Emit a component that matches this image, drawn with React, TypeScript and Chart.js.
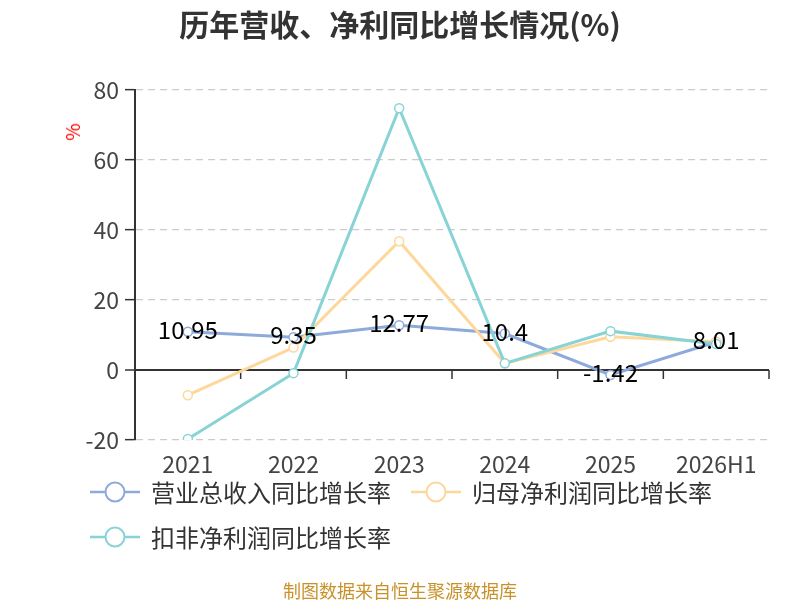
import { useEffect, useRef } from "react"
import { Chart, registerables } from "chart.js"
import type { Plugin } from "chart.js"

Chart.register(...registerables)

const years = ["2021", "2022", "2023", "2024", "2025", "2026H1"]
const seriesNames = ["营业总收入同比增长率", "归母净利润同比增长率", "扣非净利润同比增长率"]
const revenueGrowth = [10.95, 9.35, 12.77, 10.4, -1.42, 8.01]
const netProfitGrowth = [-7.2, 6.4, 36.8, 1.9, 9.5, 8.1]
const deductedProfitGrowth = [-19.7, -0.9, 74.8, 1.9, 11.1, 7.4]
const yTicks = [-20, 0, 20, 40, 60, 80]

const colors = ["#8DAADB", "#FED79B", "#88D3D6"]
const FONT = '"Noto Sans CJK SC", "Noto Sans", sans-serif'

// tick marks on the zero line between categories
const zeroAxisTicks: Plugin<"line"> = {
  id: "zeroAxisTicks",
  beforeDatasetsDraw(chart) {
    const { ctx, scales } = chart
    const x = scales.x
    const y0 = scales.y.getPixelForValue(0)
    ctx.save()
    ctx.strokeStyle = "#333"
    ctx.lineWidth = 1.5
    for (let i = 0; i <= years.length; i++) {
      const px = x.getPixelForValue(i - 0.5)
      ctx.beginPath()
      ctx.moveTo(px, y0)
      ctx.lineTo(px, y0 + 9)
      ctx.stroke()
    }
    ctx.restore()
  },
}

// value labels for the revenue series
const valueLabels: Plugin<"line"> = {
  id: "valueLabels",
  afterDatasetsDraw(chart) {
    const { ctx } = chart
    const meta = chart.getDatasetMeta(0)
    ctx.save()
    ctx.font = `24px ${FONT}`
    ctx.fillStyle = "#000"
    ctx.textAlign = "center"
    ctx.textBaseline = "middle"
    meta.data.forEach((pt, i) => {
      ctx.fillText(String(revenueGrowth[i]), pt.x, pt.y - 2)
    })
    ctx.restore()
  },
}

function LegendIcon({ color }: { color: string }) {
  return (
    <svg width="50" height="24" style={{ display: "block" }}>
      <line x1="0" y1="12" x2="50" y2="12" stroke={color} strokeWidth="2.5" />
      <circle cx="25" cy="12" r="9.5" fill="#fff" stroke={color} strokeWidth="2" />
    </svg>
  )
}

export default function App() {
  const chartRef = useRef<HTMLCanvasElement>(null)
  const chartInstance = useRef<Chart | null>(null)

  useEffect(() => {
    if (!chartRef.current) return
    if (chartInstance.current) chartInstance.current.destroy()

    const series = [revenueGrowth, netProfitGrowth, deductedProfitGrowth]

    chartInstance.current = new Chart(chartRef.current, {
      type: "line",
      data: {
        labels: years,
        datasets: series.map((data, i) => ({
          label: seriesNames[i],
          data,
          borderColor: colors[i],
          backgroundColor: colors[i],
          borderWidth: 3,
          pointRadius: 4.5,
          pointBorderWidth: 1.5,
          pointBackgroundColor: "#fff",
          pointBorderColor: colors[i],
          tension: 0,
          order: 2 - i,
        })),
      },
      options: {
        responsive: false,
        animation: false,
        layout: { padding: { left: 0, top: 90, right: 31, bottom: 120 } },
        plugins: {
          legend: { display: false },
          tooltip: { enabled: false },
          title: { display: false },
        },
        scales: {
          x: {
            type: "category",
            offset: true,
            grid: { display: false, drawTicks: false },
            border: { display: false },
            ticks: {
              color: "#444",
              padding: 10,
              font: { family: FONT, size: 23 },
              maxRotation: 0,
            },
            afterFit: (scale) => {
              scale.height = 40
            },
          },
          y: {
            min: -20,
            max: 80,
            afterBuildTicks: (scale) => {
              scale.ticks = yTicks.map((v) => ({ value: v }))
            },
            ticks: {
              color: "#444",
              padding: 6,
              font: { family: FONT, size: 23 },
            },
            grid: {
              color: (c) => (c.tick && c.tick.value === 0 ? "#333" : "#ccc"),
              lineWidth: (c) => (c.tick && c.tick.value === 0 ? 2 : 1.3),
              tickLength: 10,
              tickColor: "#333",
              tickWidth: 1.5,
            },
            border: {
              display: true,
              color: "#333",
              width: 2,
              dash: (c) => (c.tick && c.tick.value === 0 ? [] : [7, 5]),
            },
            afterFit: (scale) => {
              scale.width = 135
            },
          },
        },
      },
      plugins: [zeroAxisTicks, valueLabels],
    })

    return () => {
      if (chartInstance.current) {
        chartInstance.current.destroy()
        chartInstance.current = null
      }
    }
  }, [])

  const legendRows = [
    [0, 1],
    [2],
  ]
  const rowCenters = [492, 537]
  const itemLefts = [90, 411]

  return (
    <div
      style={{
        position: "absolute",
        left: 0,
        top: 0,
        width: 800,
        height: 600,
        background: "#fff",
        fontFamily: FONT,
        overflow: "hidden",
      }}
    >
      <canvas ref={chartRef} width={800} height={600} style={{ position: "absolute", left: 0, top: 0 }} />
      <div
        style={{
          position: "absolute",
          left: 0,
          top: 0,
          width: 800,
          lineHeight: "46px",
          textAlign: "center",
          fontSize: 30,
          fontWeight: "bold",
          color: "#333",
        }}
      >
        历年营收、净利同比增长情况(%)
      </div>
      <div
        style={{
          position: "absolute",
          left: 72,
          top: 132,
          transform: "translate(-50%, -50%) rotate(-90deg)",
          color: "#f00",
          fontSize: 19,
          lineHeight: "20px",
        }}
      >
        %
      </div>
      {legendRows.map((row, r) =>
        row.map((idx, k) => (
          <div
            key={idx}
            style={{
              position: "absolute",
              left: itemLefts[k],
              top: rowCenters[r] - 15,
              height: 30,
              display: "flex",
              alignItems: "center",
              whiteSpace: "nowrap",
            }}
          >
            <LegendIcon color={colors[idx]} />
            <span style={{ marginLeft: 11, fontSize: 24, lineHeight: "30px", color: "#333" }}>
              {seriesNames[idx]}
            </span>
          </div>
        ))
      )}
      <div
        style={{
          position: "absolute",
          left: 0,
          top: 578,
          width: 800,
          textAlign: "center",
          fontSize: 18,
          lineHeight: "24px",
          color: "#C8922A",
        }}
      >
        制图数据来自恒生聚源数据库
      </div>
    </div>
  )
}
